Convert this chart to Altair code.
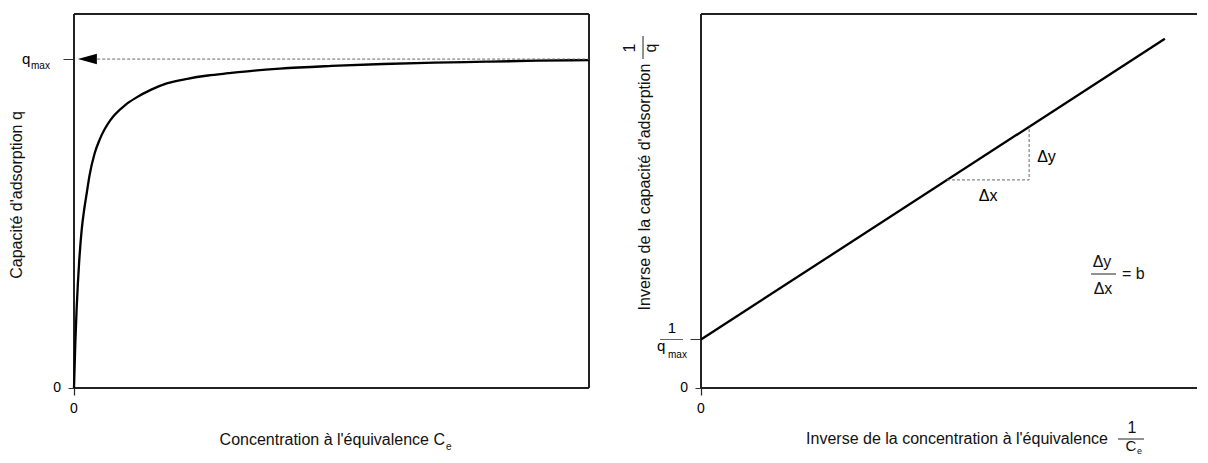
import altair as alt
import pandas as pd

FONT = "Liberation Sans"

# ---------- data: left panel (Langmuir isotherm) ----------
conc = [0, 0.25, 0.5, 0.75, 1, 1.5, 2, 2.5, 3, 4, 5, 6, 7, 8, 10, 12, 15, 18,
        22, 26, 30, 35, 40, 50, 60, 70, 80, 90, 100]
capacity = [0, 0.134, 0.237, 0.317, 0.383, 0.482, 0.545, 0.595, 0.645, 0.713,
            0.756, 0.788, 0.813, 0.832, 0.861, 0.882, 0.907, 0.926, 0.940,
            0.950, 0.957, 0.965, 0.971, 0.979, 0.985, 0.989, 0.992, 0.995, 0.997]
q_max = 1.0
qmax_dash_x = [4.5, 100]
arrow_x = [2.6]

# ---------- data: right panel (linearised form) ----------
inv_conc = [0, 8.92]
inv_capacity = [1.0, 7.2]
delta_x = [4.73, 6.31]
delta_y = [4.29, 5.39]

L_W, L_H = 515, 374
R_W, R_H = 496, 374

sxL = alt.Scale(domain=[0, 100], nice=False, zero=True)
syL = alt.Scale(domain=[0, 1.137], nice=False, zero=True)
sxR = alt.Scale(domain=[0, 9.538], nice=False, zero=True)
syR = alt.Scale(domain=[0, 7.71], nice=False, zero=True)

tick_cond = {"condition": {"test": "datum.value == 1", "value": 11}, "value": 6}

axXL = alt.Axis(values=[0], labels=False, domain=False, grid=False, title=None,
                tickSize=7, tickColor="#222", tickWidth=1.2)
axYL = alt.Axis(values=[0, 1], labels=False, domain=False, grid=False, title=None,
                tickSize=tick_cond, tickColor="#333", tickWidth=1)
axXR = alt.Axis(values=[0], labels=False, domain=False, grid=False, title=None,
                tickSize=7, tickColor="#222", tickWidth=1.2)
axYR = alt.Axis(values=[0, 1], labels=False, domain=False, grid=False, title=None,
                tickSize=tick_cond, tickColor="#333", tickWidth=1)


def enc(sx, sy, ax, ay):
    return dict(x=alt.X("x:Q", scale=sx, axis=ax),
                y=alt.Y("y:Q", scale=sy, axis=ay))


def txt(text, x, y, size=16, align="left", baseline="alphabetic", angle=0):
    kw = dict(text=text, font=FONT, fontSize=size, align=align,
              baseline=baseline, color="#111")
    if angle:
        kw["angle"] = angle
    return alt.Chart(pd.DataFrame({"t": [text]})).mark_text(**kw).encode(
        x=alt.value(x), y=alt.value(y))


def rule_px(x, x2, y, y2, width=1, color="#222"):
    return alt.Chart(pd.DataFrame({"a": [0]})).mark_rule(
        color=color, strokeWidth=width).encode(
        x=alt.value(x), x2=alt.value(x2), y=alt.value(y), y2=alt.value(y2))


# ---------- left panel ----------
dfL = pd.DataFrame({"x": conc, "y": capacity})
eL = enc(sxL, syL, axXL, axYL)
curve = alt.Chart(dfL).mark_line(color="#000", strokeWidth=2.3,
                                 interpolate="monotone").encode(**eL)
dash = alt.Chart(pd.DataFrame({"x": qmax_dash_x, "y": [q_max] * 2})).mark_line(
    color="#666", strokeWidth=1, strokeDash=[3, 2]).encode(**eL)
arrow = alt.Chart(pd.DataFrame({"x": arrow_x, "y": [q_max]})).mark_point(
    shape="M 1 -0.55 L -1 0 L 1 0.55 Z", size=361, filled=True,
    color="#000", opacity=1).encode(**eL)

labL = pd.DataFrame({"x": [0], "y": [0]})
y0L = alt.Chart(labL).mark_text(text="0", font=FONT, fontSize=14, align="right",
                                baseline="middle", dx=-13).encode(**eL)
x0L = alt.Chart(labL).mark_text(text="0", font=FONT, fontSize=14, align="center",
                                baseline="middle", dy=21).encode(**eL)
qm = pd.DataFrame({"x": [0], "y": [q_max]})
qL = alt.Chart(qm).mark_text(text="q", font=FONT, fontSize=15, align="left",
                             baseline="alphabetic", dx=-52, dy=5).encode(**eL)
maxL = alt.Chart(qm).mark_text(text="max", font=FONT, fontSize=10, align="left",
                               baseline="alphabetic", dx=-43, dy=10).encode(**eL)

left = alt.layer(
    rule_px(0, L_W, 0, 0, 2), rule_px(0, 0, 0, L_H, 2),
    rule_px(0, L_W, L_H, L_H, 2), rule_px(L_W, L_W, 0, L_H, 2),
    curve, dash, arrow, y0L, x0L, qL, maxL,
    txt("Capacité d'adsorption q", -52, 181, angle=270, align="center"),
    txt("Concentration à l'équivalence C", 371, 431, align="right"),
    txt("e", 372, 436, size=10),
).properties(width=L_W, height=L_H)

# ---------- right panel ----------
eR = enc(sxR, syR, axXR, axYR)
line = alt.Chart(pd.DataFrame({"x": inv_conc, "y": inv_capacity})).mark_line(
    color="#000", strokeWidth=2.3).encode(**eR)
tri = alt.Chart(pd.DataFrame({"x": [delta_x[0], delta_x[1], delta_x[1]],
                              "y": [delta_y[0], delta_y[0], delta_y[1]],
                              "o": [0, 1, 2]})).mark_line(
    color="#666", strokeWidth=1, strokeDash=[3, 2]).encode(
    order="o:Q", **eR)
dy_lab = alt.Chart(pd.DataFrame({"x": [delta_x[1]],
                                 "y": [(delta_y[0] + delta_y[1]) / 2]})).mark_text(
    text="Δy", font=FONT, fontSize=16, align="left", baseline="middle",
    dx=8, dy=4).encode(**eR)
dx_lab = alt.Chart(pd.DataFrame({"x": [(delta_x[0] + delta_x[1]) / 2],
                                 "y": [delta_y[0]]})).mark_text(
    text="Δx", font=FONT, fontSize=16, align="center", baseline="middle",
    dy=16).encode(**eR)

labR = pd.DataFrame({"x": [0], "y": [0]})
y0R = alt.Chart(labR).mark_text(text="0", font=FONT, fontSize=14, align="right",
                                baseline="middle", dx=-13).encode(**eR)
x0R = alt.Chart(labR).mark_text(text="0", font=FONT, fontSize=14, align="center",
                                baseline="middle", dy=21).encode(**eR)
iq = pd.DataFrame({"x": [0], "y": [1.0]})
oneR = alt.Chart(iq).mark_text(text="1", font=FONT, fontSize=15, align="center",
                               baseline="alphabetic", dx=-29, dy=-6).encode(**eR)
barR = alt.Chart(iq).mark_tick(color="#222", thickness=1, size=23,
                               orient="horizontal", xOffset=-29.5).encode(**eR)
qR = alt.Chart(iq).mark_text(text="q", font=FONT, fontSize=15, align="left",
                             baseline="alphabetic", dx=-44, dy=12).encode(**eR)
maxR = alt.Chart(iq).mark_text(text="max", font=FONT, fontSize=10, align="left",
                               baseline="alphabetic", dx=-33, dy=19).encode(**eR)

right = alt.layer(
    rule_px(0, R_W, 0, 0, 2), rule_px(0, 0, 0, R_H, 2), rule_px(0, R_W, R_H, R_H, 2),
    line, tri, dy_lab, dx_lab, y0R, x0R, oneR, barR, qR, maxR,
    txt("Inverse de la capacité d'adsorption", -51, 173, angle=270, align="center"),
    txt("1", -66, 34, angle=270, align="center"),
    rule_px(-58, -58, 22, 45),
    txt("q", -45, 34, angle=270, align="center"),
    txt("Inverse de la concentration à l'équivalence", 407, 430, align="right"),
    txt("1", 431, 419, align="center"),
    rule_px(417, 443, 425, 425),
    txt("C", 430, 437, size=15, align="center"),
    txt("e", 436, 440, size=9),
    txt("Δy", 401, 253, align="center"),
    rule_px(390, 415, 260, 260),
    txt("Δx", 402, 280, align="center"),
    txt("= b", 421, 265),
).properties(width=R_W, height=R_H)

chart = alt.hconcat(left, right, spacing=28).configure_view(
    stroke="transparent", strokeWidth=0
).properties(padding={"left": 1, "top": 5, "right": 0, "bottom": 0},
             background="white")

chart.save("out.html", embed_options={"renderer": "svg", "actions": False})
